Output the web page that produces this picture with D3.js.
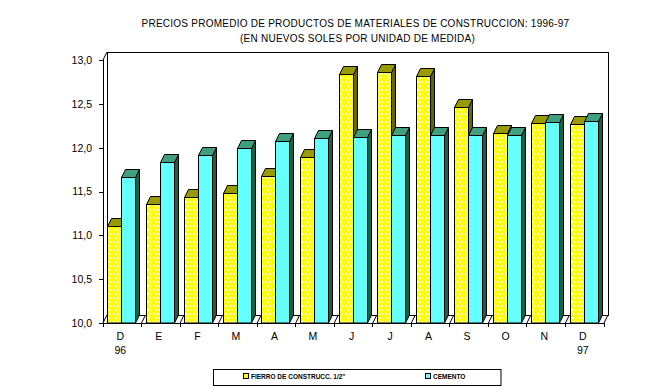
<!DOCTYPE html>
<html>
<head>
<meta charset="utf-8">
<script src="https://cdn.jsdelivr.net/npm/d3@7"></script>
<style>
  html, body { margin: 0; padding: 0; background: #fff; }
  text { font-family: "Liberation Sans", Arial, sans-serif; fill: #000; }
  .axis path, .axis line { stroke: #000; shape-rendering: crispEdges; }
  .axis text { font-size: 10.5px; }
</style>
</head>
<body>
<div id="chart"></div>
<script>
var months = ['D', 'E', 'F', 'M', 'A', 'M', 'J', 'J', 'A', 'S', 'O', 'N', 'D'];
var years = ['96', '', '', '', '', '', '', '', '', '', '', '', '97'];
var fierro = [11.11, 11.36, 11.44, 11.48, 11.68, 11.89, 12.84, 12.86, 12.82, 12.46, 12.17, 12.28, 12.27];
var cemento = [11.67, 11.84, 11.92, 12.0, 12.08, 12.11, 12.12, 12.15, 12.15, 12.15, 12.15, 12.29, 12.30];
var yTicks = [10, 10.5, 11, 11.5, 12, 12.5, 13];

var attrs = {
  svgWidth: 670,
  svgHeight: 389,
  left: 103,
  right: 604,
  top: 60,
  bottom: 323,
  depthX: 4,
  depthY: 8
};

var svg = d3.select('#chart').append('svg')
  .attr('width', attrs.svgWidth)
  .attr('height', attrs.svgHeight)
  .style('display', 'block');

// dotted fill of the yellow bars
var defs = svg.append('defs');
var dots = defs.append('pattern')
  .attr('id', 'dots')
  .attr('width', 8).attr('height', 8)
  .attr('patternUnits', 'userSpaceOnUse');
dots.append('rect').attr('width', 8).attr('height', 8).attr('fill', '#ffff00');
[[1, 1], [5, 1], [3, 5], [7, 5]].forEach(function(p) {
  dots.append('rect')
    .attr('x', p[0]).attr('y', p[1])
    .attr('width', 2).attr('height', 2)
    .attr('fill', '#ffffff')
    .attr('shape-rendering', 'crispEdges');
});

var x = d3.scaleBand().domain(d3.range(months.length)).range([attrs.left, attrs.right]);
var y = d3.scaleLinear().domain([10, 13]).range([attrs.bottom, attrs.top]);

var barWidth = 14;
var barGap = (x.bandwidth() - 2 * barWidth) / 2;

function edge(d) { return d === months.length ? attrs.right : x(d); }

// ############# back wall and floor ##################
svg.append('rect')
  .attr('x', attrs.left + attrs.depthX)
  .attr('y', attrs.top - attrs.depthY)
  .attr('width', attrs.right - attrs.left)
  .attr('height', attrs.bottom - attrs.top)
  .attr('fill', '#fff')
  .attr('stroke', '#000')
  .attr('stroke-width', 1)
  .attr('shape-rendering', 'crispEdges');

// floor diagonals at each category edge
svg.append('g').selectAll('line')
  .data(d3.range(months.length + 1))
  .join('line')
  .attr('x1', edge)
  .attr('x2', function(d) { return edge(d) + attrs.depthX; })
  .attr('y1', attrs.bottom)
  .attr('y2', attrs.bottom - attrs.depthY)
  .attr('stroke', '#000');

// top left corner of the wall
svg.append('line')
  .attr('x1', attrs.left).attr('y1', attrs.top)
  .attr('x2', attrs.left + attrs.depthX).attr('y2', attrs.top - attrs.depthY)
  .attr('stroke', '#000');

// ############# axes ##################
var yAxis = svg.append('g')
  .attr('class', 'axis')
  .attr('transform', 'translate(' + attrs.left + ',0)')
  .call(d3.axisLeft(y).tickValues(yTicks).tickSizeOuter(0).tickSize(4).tickPadding(7)
    .tickFormat(function(d) { return d3.format('.1f')(d).replace('.', ','); }));

var xAxis = svg.append('g')
  .attr('class', 'axis')
  .attr('transform', 'translate(0,' + attrs.bottom + ')')
  .call(d3.axisBottom(x).tickValues([]).tickSizeOuter(0));

xAxis.selectAll('.edge')
  .data(d3.range(months.length + 1))
  .join('line')
  .attr('class', 'edge')
  .attr('x1', edge)
  .attr('x2', edge)
  .attr('y1', 0)
  .attr('y2', 4);

xAxis.selectAll('.month')
  .data(months)
  .join('text')
  .attr('class', 'month')
  .attr('x', function(d, i) { return x(i) + x.bandwidth() / 2 - 2; })
  .attr('y', 17)
  .attr('text-anchor', 'middle')
  .attr('fill', '#000')
  .text(function(d) { return d; });

xAxis.selectAll('.year')
  .data(years)
  .join('text')
  .attr('class', 'year')
  .attr('x', function(d, i) { return x(i) + x.bandwidth() / 2 - 2; })
  .attr('y', 31)
  .attr('text-anchor', 'middle')
  .attr('fill', '#000')
  .text(function(d) { return d; });

// ############# 3d bars ##################
function bar3d(group, values, offset, front, top, side) {
  var g = group.append('g');
  values.forEach(function(v, i) {
    var x0 = Math.round(x(i) + barGap + offset) - 0.5;
    var x1 = x0 + barWidth;
    var y0 = Math.round(y(v)) + 0.5;
    var dx = attrs.depthX;
    var dy = attrs.depthY;
    var b = g.append('g')
      .attr('stroke', '#000')
      .attr('stroke-width', 1)
      .attr('stroke-linejoin', 'miter');
    b.append('path')
      .attr('fill', side)
      .attr('d', d3.line()([[x1, y0], [x1 + dx, y0 - dy], [x1 + dx, attrs.bottom - dy], [x1, attrs.bottom]]) + 'Z');
    b.append('path')
      .attr('fill', top)
      .attr('d', d3.line()([[x0, y0], [x0 + dx, y0 - dy], [x1 + dx, y0 - dy], [x1, y0]]) + 'Z');
    b.append('rect')
      .attr('x', x0).attr('y', y0)
      .attr('width', barWidth).attr('height', attrs.bottom - y0)
      .attr('fill', front);
  });
}

var barsLayer = svg.append('g');
bar3d(barsLayer, fierro, 0, 'url(#dots)', '#999900', '#666600');
bar3d(barsLayer, cemento, barWidth, '#66ffff', '#3f9f7f', '#1f5f3f');

// ############# titles ##################
svg.append('text')
  .attr('x', 141.5).attr('y', 26.5)
  .attr('font-size', 10)
  .attr('letter-spacing', 0.25)
  .text('PRECIOS PROMEDIO DE PRODUCTOS DE MATERIALES DE CONSTRUCCION: 1996-97');
svg.append('text')
  .attr('x', 240).attr('y', 42)
  .attr('font-size', 10)
  .attr('letter-spacing', 0.25)
  .text('(EN NUEVOS SOLES POR UNIDAD DE MEDIDA)');

// ############# legend ##################
var legend = svg.append('g');
legend.append('rect')
  .attr('x', 213.5).attr('y', 369.5)
  .attr('width', 287.5).attr('height', 16)
  .attr('fill', '#fff').attr('stroke', '#000');
var legendItems = [
  { name: 'FIERRO DE CONSTRUCC. 1/2"', color: '#ffff00', x: 244 },
  { name: 'CEMENTO', color: '#66ffff', x: 426 }
];
legendItems.forEach(function(d) {
  legend.append('rect')
    .attr('x', d.x - 0.5).attr('y', 373.5)
    .attr('width', 5).attr('height', 5)
    .attr('fill', d.color).attr('stroke', '#000');
  legend.append('text')
    .attr('x', d.x + 7).attr('y', 379)
    .attr('font-size', 6.5)
    .attr('font-weight', 'bold')
    .text(d.name);
});
</script>
</body>
</html>
